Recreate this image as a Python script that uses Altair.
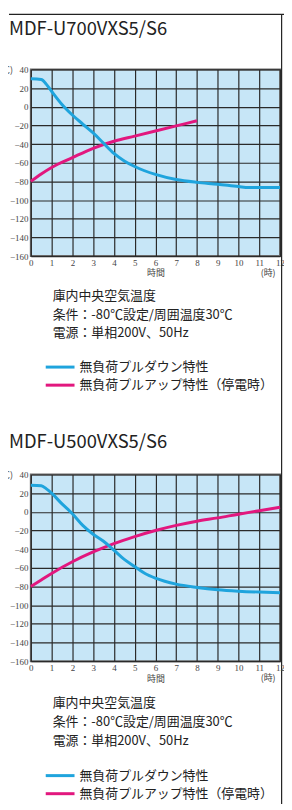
import altair as alt
import pandas as pd

# ---- data ----
hours = list(range(0, 13))
temps = list(range(-160, 41, 20))

titles = ["MDF-U700VXS5/S6", "MDF-U500VXS5/S6"]
series_names = ["無負荷プルダウン特性", "無負荷プルアップ特性（停電時）"]
notes = ["庫内中央空気温度", "条件：-80℃設定/周囲温度30℃", "電源：単相200V、50Hz"]

# Panel 1 (MDF-U700)
p1_down_t = [0, 0.5, 0.75, 1, 1.5, 2, 2.5, 3, 3.5, 4, 4.5, 5, 6, 7, 8, 9, 10, 10.5, 11, 12]
p1_down_v = [30, 29.3, 24, 16.6, 2.5, -8.8, -18.5, -28, -39, -50, -58, -64, -72.5, -78, -81, -83, -85.5, -86.5, -86.5, -86.5]
p1_up_t = [0, 0.5, 1, 2, 3, 4, 5, 6, 7, 8]
p1_up_v = [-80, -72, -65, -54.5, -44.5, -37, -31.5, -26, -20.5, -15]

# Panel 2 (MDF-U500)
p2_down_t = [0, 0.5, 0.75, 1, 1.5, 2, 2.5, 3, 3.5, 4, 4.5, 5, 5.5, 6, 7, 8, 9, 10, 11, 12]
p2_down_v = [28.6, 28, 24.6, 20, 8.5, -2, -14.5, -24, -31.5, -41, -51, -58.6, -66, -71, -77.5, -81, -83.5, -85, -86, -86.7]
p2_up_t = [0, 0.5, 1, 2, 3, 4, 5, 6, 7, 8, 9, 10, 11, 12]
p2_up_v = [-80, -73, -66, -53.5, -43, -34, -26.5, -20, -14.5, -10, -6.5, -2.5, 1.2, 5]

BLUE = "#1fa4dd"
PINK = "#e2177e"
JP = "Noto Sans CJK JP"
NUM = "Liberation Sans Narrow"
W, H = 251, 188


def one():
    return pd.DataFrame({"k": [0]})


def panel(title, down_t, down_v, up_t, up_v, title_y, note_y, note_gap, leg_y, first):
    xs = alt.X("t:Q", scale=alt.Scale(domain=[0, 12], nice=False, zero=False),
               axis=alt.Axis(values=hours, title="時間", grid=True, ticks=False, domain=False,
                             labelFontSize=9, labelFont=NUM, labelColor="#444", labelPadding=2,
                             labelFlush=False, titleFont=JP, titleFontSize=9,
                             titleFontWeight="normal", titleColor="#444", titlePadding=2,
                             gridColor="#2a2a2a", gridWidth=1.2, gridOpacity=1))
    ys = alt.Y("v:Q", scale=alt.Scale(domain=[-160, 40], nice=False, zero=False),
               axis=alt.Axis(values=temps, title=None, grid=True, ticks=False, domain=False,
                             labelFontSize=9, labelFont=NUM, labelColor="#444", labelPadding=3,
                             labelFlush=False,
                             gridColor="#2a2a2a", gridWidth=1.2, gridOpacity=1))
    up = alt.Chart(pd.DataFrame({"t": up_t, "v": up_v})).mark_line(
        color=PINK, strokeWidth=3, interpolate="monotone").encode(x=xs, y=ys)
    down = alt.Chart(pd.DataFrame({"t": down_t, "v": down_v})).mark_line(
        color=BLUE, strokeWidth=3, interpolate="monotone").encode(x=xs, y=ys)

    layers = [up, down]
    layers.append(alt.Chart(one()).mark_text(
        text=title, align="left", baseline="alphabetic", font=JP, fontSize=18.5,
        color="#222").encode(x=alt.value(-22), y=alt.value(title_y)))
    layers.append(alt.Chart(one()).mark_text(
        text="(℃)", align="right", baseline="middle", font=JP, fontSize=9,
        color="#444").encode(x=alt.value(-18), y=alt.value(1)))
    layers.append(alt.Chart(one()).mark_text(
        text="(時)", align="center", baseline="middle", font=JP, fontSize=9,
        color="#444").encode(x=alt.value(239), y=alt.value(H + 17)))
    for i, n in enumerate(notes):
        layers.append(alt.Chart(one()).mark_text(
            text=n, align="left", baseline="middle", font=JP, fontSize=13,
            color="#222").encode(x=alt.value(22), y=alt.value(note_y + i * note_gap)))
    for i, (name, col) in enumerate(zip(series_names, [BLUE, PINK])):
        yy = leg_y + i * 18.2
        layers.append(alt.Chart(one()).mark_rule(color=col, strokeWidth=3).encode(
            x=alt.value(15), x2=alt.value(44), y=alt.value(yy)))
        layers.append(alt.Chart(one()).mark_text(
            text=name, align="left", baseline="middle", font=JP, fontSize=13,
            color="#222").encode(x=alt.value(49), y=alt.value(yy)))
    if first:
        # off-canvas anchor (clipped) fixing the top-left extent
        layers.append(alt.Chart(one()).mark_rule(color="#ffffff", strokeWidth=1).encode(
            x=alt.value(-40), x2=alt.value(-30), y=alt.value(-80)))
        # frame: top line and right line
        layers.append(alt.Chart(one()).mark_rule(color="#222", strokeWidth=1.2).encode(
            x=alt.value(-22), x2=alt.value(270), y=alt.value(-55.5)))
        layers.append(alt.Chart(one()).mark_rule(color="#222", strokeWidth=1.2).encode(
            x=alt.value(252.6), y=alt.value(-55.5), y2=alt.value(790)))
    return alt.layer(*layers).properties(width=W, height=H)


c1 = panel(titles[0], p1_down_t, p1_down_v, p1_up_t, p1_up_v, -35, 228.7, 18.3, 299.8, True)
c2 = panel(titles[1], p2_down_t, p2_down_v, p2_up_t, p2_up_v, -27, 230, 19, 303.3, False)

chart = alt.vconcat(c1, c2, spacing=220, bounds="flush").properties(
    padding={"left": -19, "top": -23, "right": -17, "bottom": -55},
    background="white"
).configure_view(fill="#c7e6f7", stroke="#6a6a6a", strokeWidth=2)

chart.save("out.html", embed_options={"renderer": "svg", "actions": False})
